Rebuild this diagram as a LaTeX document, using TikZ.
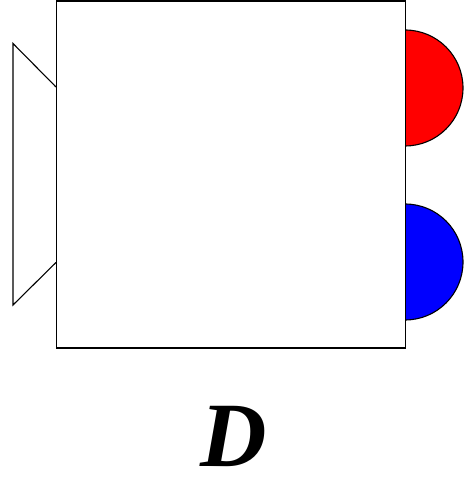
\documentclass[tikz,border=0pt]{standalone}
\usepackage{fontspec}
\setmainfont{Liberation Serif}
\usetikzlibrary{positioning}

\tikzset{
    outline/.style={draw=black, line width=1.1pt},
    halfport/.style={outline, fill=#1},
    symlabel/.style={font=\fontsize{92}{92}\selectfont\bfseries\itshape, inner sep=4pt}
}

\begin{document}
\begin{tikzpicture}[x=1pt, y=1pt]
    \useasboundingbox (0,0) rectangle (466,478);
    % ports on the right
    \draw[halfport=red] (405,448) arc[start angle=90, end angle=-90, radius=58] -- cycle;
    \draw[halfport=blue] (405,274) arc[start angle=90, end angle=-90, radius=58] -- cycle;
    % body
    \node[outline, fill=white, minimum width=349pt, minimum height=347pt, inner sep=0pt,
        anchor=north west] (body) at (56,477.5) {};
    % inlet on the left
    \coordinate (inA) at (56,391);
    \coordinate (inB) at (56,215.5);
    \draw[outline] (inA) -- (13,434.5) -- (13,173) -- (inB);
    \node[symlabel, anchor=base] (name) at (234,12) {D};
\end{tikzpicture}
\end{document}
